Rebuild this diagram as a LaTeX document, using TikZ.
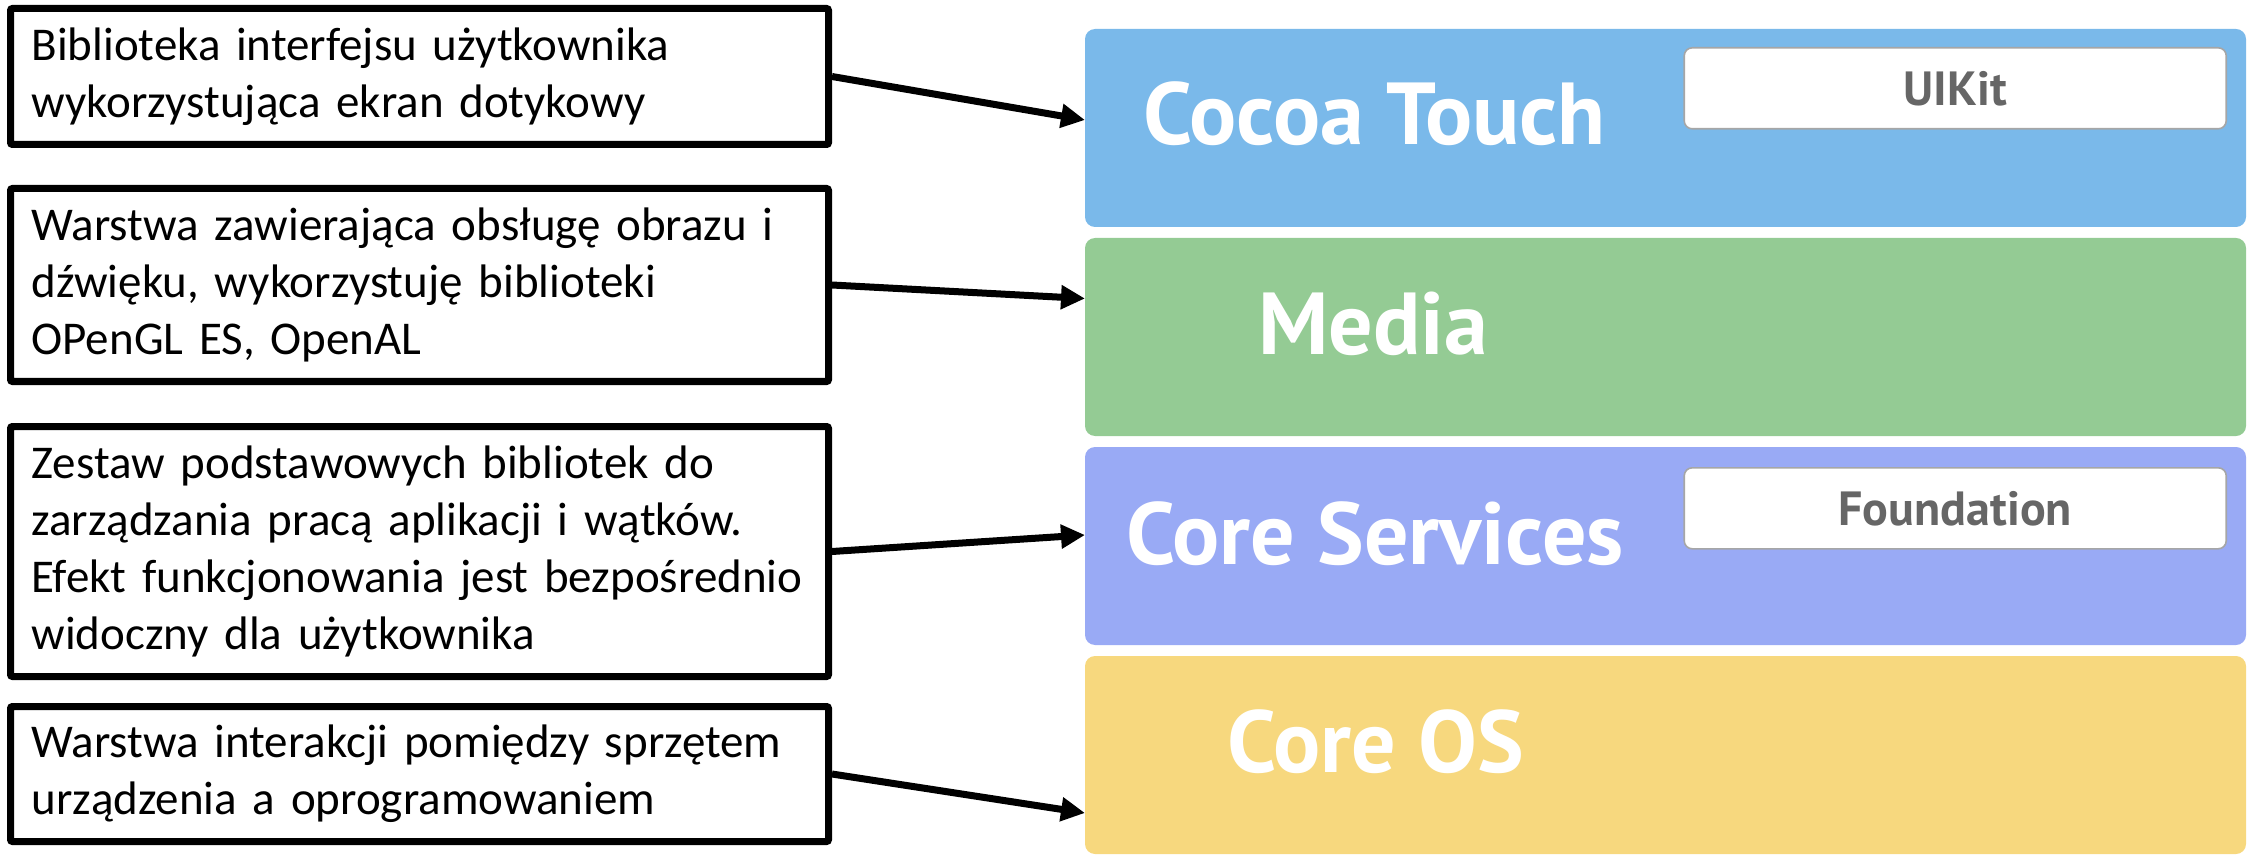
\documentclass[tikz,border=0pt]{standalone}
\usepackage{fontspec}
\setmainfont{Carlito}
\newfontfamily\warstwafont{PT Sans}
\usetikzlibrary{arrows.meta, positioning}
\definecolor{touchblue}{RGB}{122,185,234}
\definecolor{mediagreen}{RGB}{148,203,148}
\definecolor{serviceblue}{RGB}{153,170,245}
\definecolor{osyellow}{RGB}{247,216,126}
\definecolor{frameworkgray}{RGB}{102,102,102}
\tikzstyle{opis}=[draw, line width=3.5pt, rounded corners=1pt, minimum width=409pt, text width=388pt, inner xsep=10.5pt, align=left, font=\fontsize{23.5pt}{28.5pt}\selectfont]
\tikzstyle{warstwa}=[rounded corners=5pt, minimum width=580.5pt, minimum height=99pt, outer sep=0pt, inner sep=0pt]
\tikzstyle{nazwa}=[text=white, font=\warstwafont\bfseries\fontsize{44pt}{44pt}\selectfont, inner sep=0pt, anchor=base west]
\tikzstyle{framework}=[draw=black!35, fill=white, line width=0.8pt, rounded corners=4pt, minimum width=271pt, minimum height=40.5pt, text=frameworkgray, font=\warstwafont\bfseries\fontsize{24pt}{24pt}\selectfont, anchor=north east]
\tikzstyle{strzalka}=[line width=3.5pt, -{Triangle[length=12pt,width=11.5pt]}]

\begin{document}
\begin{tikzpicture}
  \useasboundingbox (0,0) rectangle (1126pt,-427.5pt);
  % warstwy iOS
  \node[warstwa, fill=touchblue, anchor=north west] (cocoa) at (542.5pt,-14.5pt) {};
  \node[warstwa, fill=mediagreen] (media) [below=5.5pt of cocoa] {};
  \node[warstwa, fill=serviceblue] (services) [below=5.5pt of media] {};
  \node[warstwa, fill=osyellow] (coreos) [below=5.5pt of services] {};
  \node[nazwa] (cocoaname) at ([xshift=29pt,yshift=-58pt]cocoa.north west) {Cocoa Touch};
  \node[nazwa] (medianame) at ([xshift=86.5pt,yshift=-58.5pt]media.north west) {Media};
  \node[nazwa] (servicesname) at ([xshift=20.5pt,yshift=-58.5pt]services.north west) {Core Services};
  \node[nazwa] (coreosname) at ([xshift=71pt,yshift=-58pt]coreos.north west) {Core OS};
  \node[framework] (uikit) at ([xshift=-9.5pt,yshift=-9pt]cocoa.north east) {UIKit};
  \node[framework] (foundation) at ([xshift=-9.5pt,yshift=-10pt]services.north east) {Foundation};
  % opisy
  \node[opis, minimum height=68pt, anchor=north west] (d1) at (3.5pt,-2.5pt) {Biblioteka interfejsu użytkownika\\wykorzystująca ekran dotykowy};
  \node[opis, minimum height=96.5pt] (d2) [below=18.5pt of d1] {Warstwa zawierająca obsługę obrazu i\\dźwięku, wykorzystuję biblioteki\\OPenGL ES, OpenAL};
  \node[opis, minimum height=125pt] (d3) [below=19pt of d2] {Zestaw podstawowych bibliotek do\\zarządzania pracą aplikacji i wątków.\\Efekt funkcjonowania jest bezpośrednio\\widoczny dla użytkownika};
  \node[opis, minimum height=67.5pt] (d4) [below=11.5pt of d3] {Warstwa interakcji pomiędzy sprzętem\\urządzenia a oprogramowaniem};
  \path[strzalka] (d1.east) edge ([yshift=4pt]cocoa.west);
  \path[strzalka] (d2.east) edge ([yshift=19.25pt]media.west);
  \path[strzalka] (d3.east) edge ([yshift=5.5pt]services.west);
  \path[strzalka] (d4.east) edge ([yshift=-29pt]coreos.west);
\end{tikzpicture}
\end{document}
